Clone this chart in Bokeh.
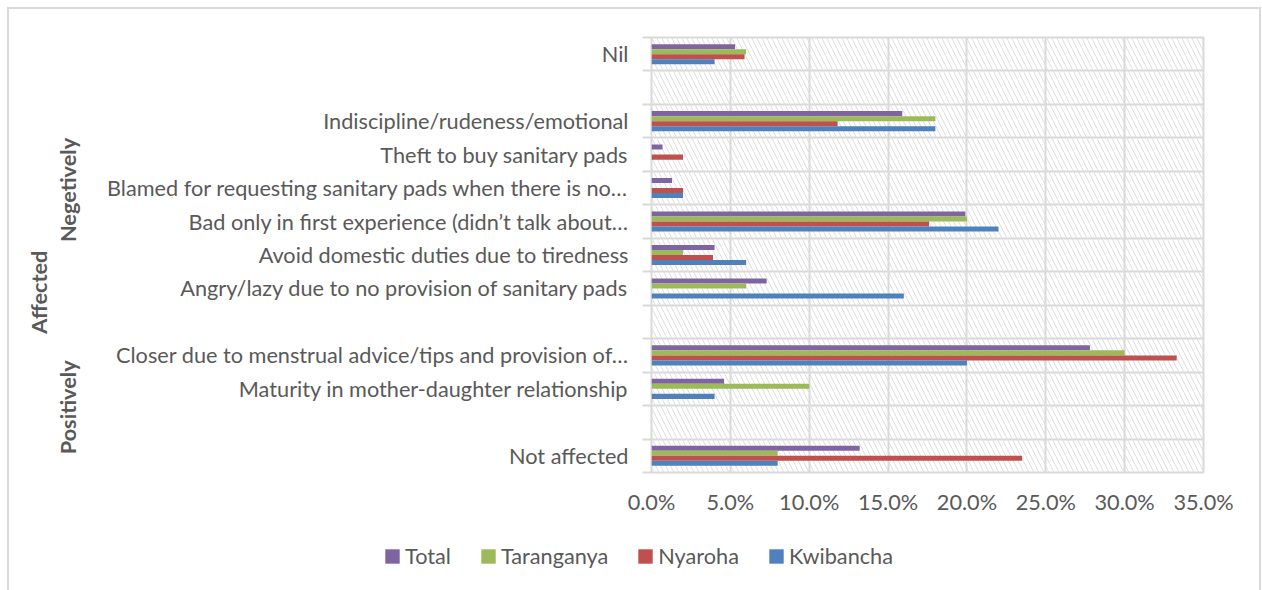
import math
from bokeh.plotting import figure
from bokeh.layouts import column
from bokeh.models import (Range1d, FixedTicker, Legend, LegendItem, LinearAxis,
                          BoxAnnotation, NumeralTickFormatter)
from bokeh.embed import file_html
from bokeh.resources import INLINE

# ---- data (percent), top row first ----
categories = [
    "Nil",
    "",
    "Indiscipline/rudeness/emotional",
    "Theft to buy sanitary pads",
    "Blamed for requesting sanitary pads when there is no\u2026",
    "Bad only in first experience (didn\u2019t talk about\u2026",
    "Avoid domestic duties due to tiredness",
    "Angry/lazy due to no provision of sanitary pads",
    "",
    "Closer due to menstrual advice/tips and provision of\u2026",
    "Maturity in mother-daughter relationship",
    "",
    "Not affected",
]
total      = [5.3, 0, 15.9, 0.7, 1.3, 19.9, 4.0, 7.3, 0, 27.8, 4.6, 0, 13.2]
taranganya = [6.0, 0, 18.0, 0.0, 0.0, 20.0, 2.0, 6.0, 0, 30.0, 10.0, 0, 8.0]
nyaroha    = [5.9, 0, 11.8, 2.0, 2.0, 17.6, 3.9, 0.0, 0, 33.3, 0.0, 0, 23.5]
kwibancha  = [4.0, 0, 18.0, 0.0, 2.0, 22.0, 6.0, 16.0, 0, 20.0, 4.0, 0, 8.0]
series_names = ["Total", "Taranganya", "Nyaroha", "Kwibancha"]
colors = ["#8064A2", "#9BBB59", "#C0504D", "#4F81BD"]
x_ticks = [0, 5, 10, 15, 20, 25, 30, 35]
# group labels (rotated); anchor = upper end of the text, in category rows from the bottom
inner_groups = ["Negetively", "Positively"]
inner_group_anchor = [10.0, 3.35]
outer_groups = ["Affected"]
outer_group_anchor = [6.63]

FONT = "Lato"
TXT = "#595959"
GRID = "#d9d9d9"
FS = "21.7px"

n = len(categories)
centers = [n - i - 0.5 for i in range(n)]

p = figure(width=1250, height=515, output_backend="svg", toolbar_location=None,
           x_range=Range1d(0, x_ticks[-1] / 100), y_range=Range1d(0, n),
           min_border_left=642, min_border_top=28, min_border_right=56,
           min_border_bottom=52, frame_align=False)
p.outline_line_color = GRID
p.outline_line_width = 2

hatch = BoxAnnotation(fill_color=None, line_color=None, hatch_pattern="\\",
                      hatch_color="#dedede", hatch_scale=10, hatch_weight=1,
                      level="underlay")
p.add_layout(hatch)

bar_h = 0.15
all_vals = [total, taranganya, nyaroha, kwibancha]
for k, (vals, col) in enumerate(zip(all_vals, colors)):
    off = (1.5 - k) * bar_h
    p.hbar(y=[c + off for c in centers], right=[v / 100 for v in vals], left=0,
           height=bar_h, fill_color=col, line_color=None)

# x axis
p.xaxis.ticker = FixedTicker(ticks=[t / 100 for t in x_ticks])
p.xaxis.formatter = NumeralTickFormatter(format="0.0%")
p.xaxis.axis_line_color = None
p.xaxis.major_tick_line_color = None
p.xaxis.minor_tick_line_color = None
p.xaxis.major_label_text_font = FONT
p.xaxis.major_label_text_font_size = FS
p.xaxis.major_label_text_color = TXT
p.xaxis.major_label_standoff = 10

# category axis
yax = p.yaxis[0]
yax.ticker = FixedTicker(ticks=centers, minor_ticks=list(range(n + 1)))
yax.major_label_overrides = {c: lab for c, lab in zip(centers, categories)}
yax.axis_line_color = None
yax.major_tick_line_color = None
yax.major_tick_out = 0
yax.minor_tick_line_color = GRID
yax.minor_tick_line_width = 2
yax.minor_tick_out = 9
yax.minor_tick_in = 0
yax.major_label_text_font = FONT
yax.major_label_text_font_size = FS
yax.major_label_text_color = TXT
yax.major_label_standoff = 14


def group_axis(labels, pos, standoff):
    ax = LinearAxis(ticker=FixedTicker(ticks=pos),
                    major_label_overrides={q: t for q, t in zip(pos, labels)},
                    major_label_orientation=math.pi / 2,
                    axis_line_color=None, major_tick_line_color=None,
                    minor_tick_line_color=None, major_tick_out=0, major_tick_in=0,
                    minor_tick_out=0, minor_tick_in=0,
                    major_label_standoff=standoff,
                    major_label_text_font=FONT, major_label_text_font_size=FS,
                    major_label_text_font_style="bold",
                    major_label_text_color=TXT)
    p.add_layout(ax, "left")
    return ax


group_axis(inner_groups, inner_group_anchor, 36)
group_axis(outer_groups, outer_group_anchor, 0)

# grids
p.xgrid.ticker = FixedTicker(ticks=[t / 100 for t in x_ticks])
p.xgrid.grid_line_color = GRID
p.xgrid.grid_line_width = 2
p.ygrid.ticker = FixedTicker(ticks=list(range(n + 1)))
p.ygrid.grid_line_color = GRID
p.ygrid.grid_line_width = 2

# legend strip (own small figure so that the legend is not clipped);
# proxy renderers sit outside the strip's visible range
pl = figure(width=1250, height=66, output_backend="svg", toolbar_location=None,
            x_range=Range1d(0, 1), y_range=Range1d(0, 1),
            x_axis_location=None, y_axis_location=None, min_border=0,
            frame_align=False)
pl.outline_line_color = None
pl.grid.visible = False
leg_renderers = [pl.hbar(y=[-5], right=[0.5], left=0, height=0.1, fill_color=col,
                         line_color=None) for col in colors]
legend = Legend(items=[LegendItem(label=nm, renderers=[r])
                       for nm, r in zip(series_names, leg_renderers)],
                orientation="horizontal", location=(374, 21),
                padding=0, margin=0, spacing=28, label_standoff=4,
                glyph_width=18, glyph_height=18,
                border_line_color=None, background_fill_alpha=0,
                label_text_font=FONT, label_text_font_size=FS,
                label_text_color=TXT)
pl.add_layout(legend)

root = column(p, pl, spacing=0)
root.margin = (7, 0, 0, 7)
root.styles = {"border-top": "2px solid #d9d9d9", "border-left": "2px solid #d9d9d9",
               "border-right": "2px solid #d9d9d9"}

open("out.html", "w").write(file_html(root, INLINE))
